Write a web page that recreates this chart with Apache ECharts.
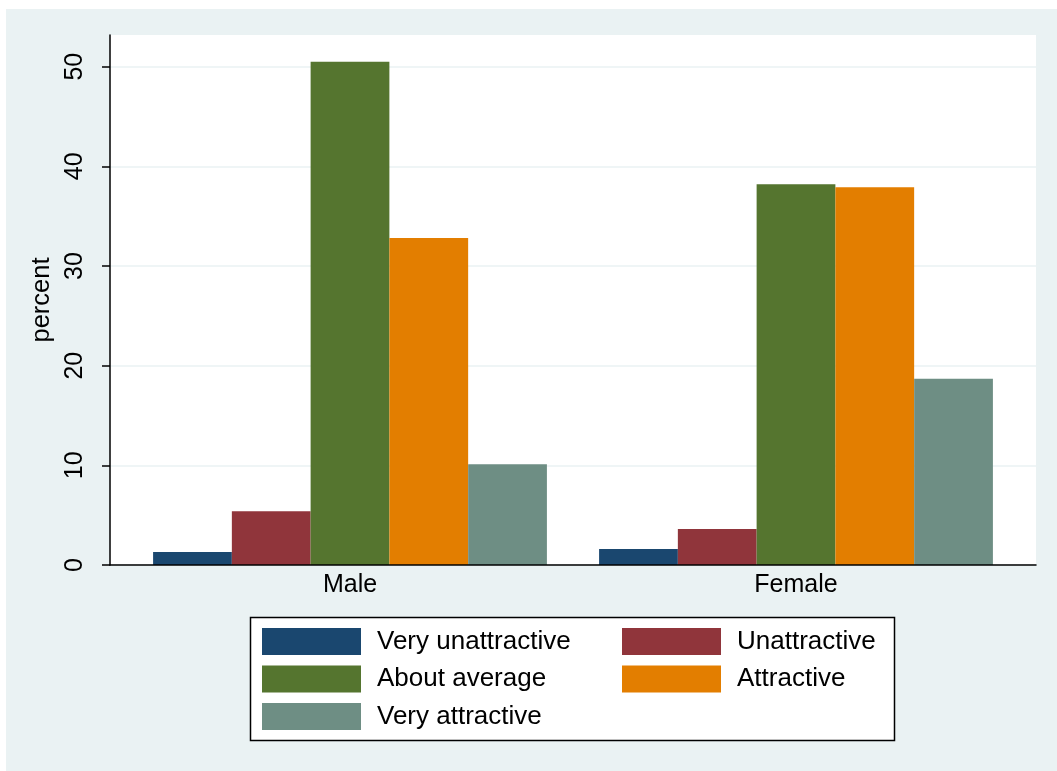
<!DOCTYPE html>
<html>
<head>
<meta charset="utf-8">
<script src="https://cdn.jsdelivr.net/npm/echarts@6/dist/echarts.min.js"></script>
<style>
html,body{margin:0;padding:0;background:#fff;}
#bg{position:absolute;left:6px;top:9px;right:0;bottom:0;background:#EAF2F3;}
#chart{position:absolute;left:0;top:0;width:1057px;height:771px;}
</style>
</head>
<body>
<div id="bg"></div>
<div id="chart"></div>
<script>
var categories = ['Male', 'Female'];
var seriesNames = ['Very unattractive', 'Unattractive', 'About average', 'Attractive', 'Very attractive'];
var veryUnattractive = [1.3, 1.6];
var unattractive = [5.4, 3.6];
var aboutAverage = [50.5, 38.2];
var attractive = [32.8, 37.9];
var veryAttractive = [10.1, 18.7];
var yTicks = [0, 10, 20, 30, 40, 50];
var colors = ['#1A476F', '#90353B', '#55752F', '#E37E00', '#6E8E84'];
var values = [veryUnattractive, unattractive, aboutAverage, attractive, veryAttractive];

var font = "'Liberation Sans', Arial, sans-serif";
var yMax = 53.18;

var chart = echarts.init(document.getElementById('chart'), null, {renderer: 'canvas'});
var series = seriesNames.map(function (n, i) {
  return {
    name: n, type: 'bar', xAxisIndex: 1, yAxisIndex: 1, z: 3,
    data: values[i], barGap: '0%', barCategoryGap: '11.7%',
    itemStyle: {color: colors[i]}, emphasis: {disabled: true}
  };
});

var legendText = {fontSize: 26, lineHeight: 27, color: '#000', fontFamily: font, padding: [0, 0, 0, 11]};

chart.setOption({
  animation: false,
  color: colors,
  grid: [
    {left: 110, right: 21, top: 35, bottom: 206, show: true, backgroundColor: '#ffffff', borderWidth: 0},
    {left: 127, right: 38, top: 35, bottom: 206}
  ],
  xAxis: [
    {type: 'value', gridIndex: 0, min: 0, max: 1, z: 5,
     axisLine: {show: true, onZero: false, lineStyle: {color: '#000', width: 1.5}},
     axisTick: {show: false}, axisLabel: {show: false}, splitLine: {show: false}},
    {type: 'category', gridIndex: 1, data: categories,
     axisLine: {show: false}, axisTick: {show: false},
     axisLabel: {margin: 8, fontSize: 25, color: '#000', fontFamily: font}}
  ],
  yAxis: [
    {type: 'value', gridIndex: 0, min: 0, max: yMax, interval: 10, z: 0,
     name: 'percent', nameLocation: 'middle', nameGap: 52, nameRotate: 90,
     nameTextStyle: {fontSize: 25.5, color: '#000', fontFamily: font},
     axisLine: {show: true, lineStyle: {color: '#000', width: 1.5}},
     axisTick: {show: true, length: 8, customValues: yTicks, lineStyle: {color: '#000', width: 1.5}},
     axisLabel: {rotate: 90, margin: 22, fontSize: 25, color: '#000', fontFamily: font, customValues: yTicks},
     splitLine: {show: true, lineStyle: {color: '#EAF2F3', width: 1.5}}},
    {type: 'value', gridIndex: 1, min: 0, max: yMax, show: false, splitLine: {show: false}}
  ],
  legend: [
    {orient: 'vertical', left: 262, top: 628, padding: 0, itemWidth: 99, itemHeight: 27, itemGap: 10.5,
     data: [seriesNames[0], seriesNames[2], seriesNames[4]], selectedMode: false,
     icon: 'rect', textStyle: legendText},
    {orient: 'vertical', left: 622, top: 628, padding: 0, itemWidth: 99, itemHeight: 27, itemGap: 10.5,
     data: [seriesNames[1], seriesNames[3]], selectedMode: false,
     icon: 'rect', textStyle: legendText}
  ],
  graphic: [
    {type: 'rect', shape: {x: 250.5, y: 617.5, width: 644, height: 123}, style: {fill: '#fff', stroke: '#000', lineWidth: 1.5}, z: -1}
  ],
  series: series
});
</script>
</body>
</html>
